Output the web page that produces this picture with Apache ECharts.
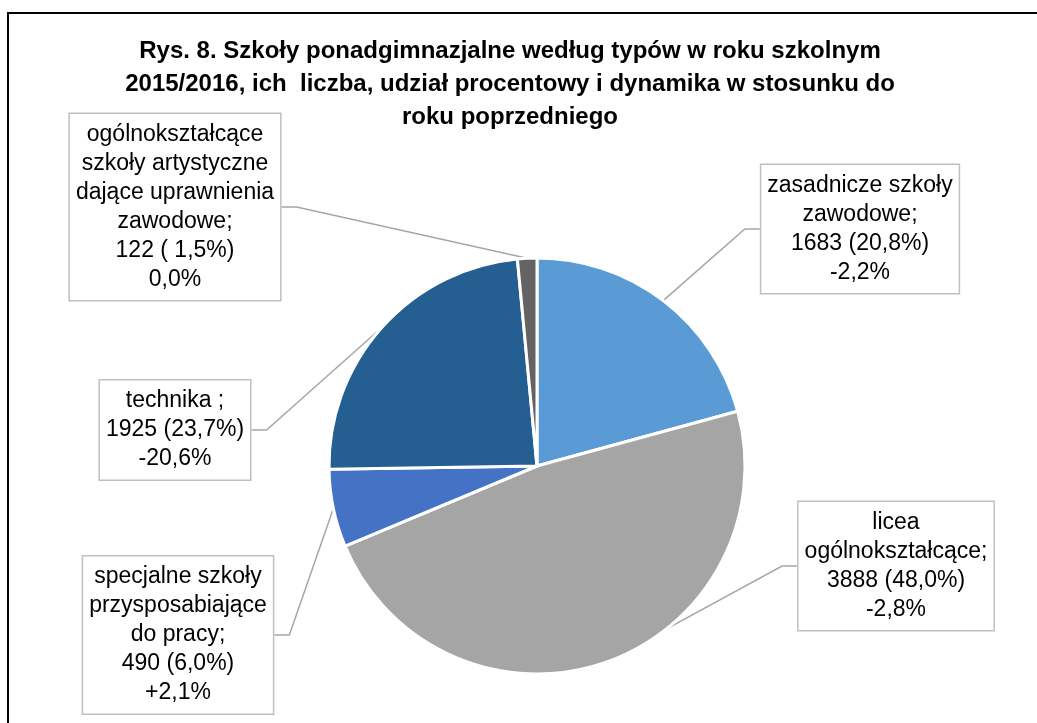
<!DOCTYPE html>
<html><head><meta charset="utf-8">
<script src="https://cdn.jsdelivr.net/npm/echarts@6/dist/echarts.min.js"></script>
<style>html,body{margin:0;padding:0;background:#fff}#c{width:1037px;height:723px}</style>
</head><body><div id="c"></div>
<script>
const categories = [
  'zasadnicze szkoły\nzawodowe;',
  'licea\nogólnokształcące;',
  'specjalne szkoły\nprzysposabiające\ndo pracy;',
  'technika ;',
  'ogólnokształcące\nszkoły artystyczne\ndające uprawnienia\nzawodowe;'
];
const counts = [1683, 3888, 490, 1925, 122];
const shares = ['20,8%', '48,0%', '6,0%', '23,7%', ' 1,5%'];
const dynamics = ['-2,2%', '-2,8%', '+2,1%', '-20,6%', '0,0%'];
const sliceColors = ['#5B9BD5', '#A5A5A5', '#4472C4', '#255E91', '#636363'];
const titleText = 'Rys. 8. Szkoły ponadgimnazjalne według typów w roku szkolnym\n2015/2016, ich  liczba, udział procentowy i dynamika w stosunku do\nroku poprzedniego';

// label box centres (layout only)
const labelCenters = [[860, 229], [896, 566], [178, 635], [175, 430], [175, 207]];

const chart = echarts.init(document.getElementById('c'), null, {renderer: 'canvas'});
const data = categories.map((c, i) => ({
  name: c, value: counts[i], itemStyle: {color: sliceColors[i]}
}));
chart.setOption({
  backgroundColor: '#fff',
  animation: false,
  title: {
    text: titleText,
    left: 505, top: 30, textAlign: 'center',
    textStyle: {fontFamily: 'Liberation Sans, Arial, sans-serif', fontWeight: 'bold', fontSize: 24, lineHeight: 33, color: '#000'}
  },
  graphic: [{
    type: 'rect', silent: true,
    shape: {x: 8, y: 13, width: 1200, height: 900},
    style: {fill: 'none', stroke: '#000', lineWidth: 2}
  }],
  series: [{
    type: 'pie',
    center: [537, 466],
    radius: 208,
    startAngle: 90,
    clockwise: true,
    data: data,
    itemStyle: {borderColor: '#fff', borderWidth: 3},
    label: {
      show: true,
      position: 'outside',
      formatter: p => p.name + '\n' + counts[p.dataIndex] + ' (' + shares[p.dataIndex] + ')\n' + dynamics[p.dataIndex],
      fontFamily: 'Liberation Sans, Arial, sans-serif',
      fontSize: 23,
      lineHeight: 29,
      color: '#000',
      align: 'center',
      backgroundColor: '#fff',
      borderColor: '#BFBFBF',
      borderWidth: 1.5,
      padding: [6, 6]
    },
    labelLine: {show: true, length: 20, length2: 15, lineStyle: {color: '#A6A6A6', width: 1.5}},
    labelLayout: function (p) {
      const c = labelCenters[p.dataIndex];
      return {x: c[0], y: c[1], align: 'center', verticalAlign: 'middle'};
    }
  }]
});
</script></body></html>
